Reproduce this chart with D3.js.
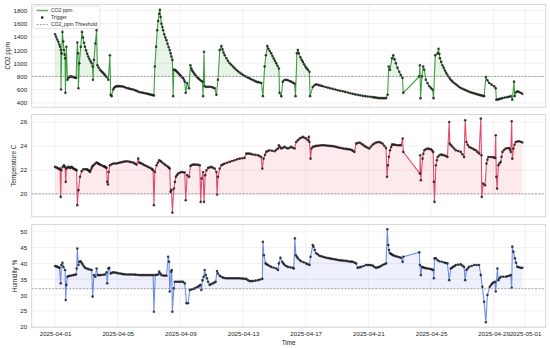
<!DOCTYPE html>
<html>
<head>
<meta charset="utf-8">
<script src="https://cdn.jsdelivr.net/npm/d3@7"></script>
<style>
body { margin: 0; background: #fff; }
text { font-family: "Liberation Sans", Arial, sans-serif; fill: #262626; }
</style>
</head>
<body>
<div id="chart"></div>
<script>
//Width and height
var w = 550;
var h = 348;

//Start of the series, values are [days since start, reading]
var startDate = Date.UTC(2025, 3, 1);

var co2Series = [
[0,1440],[0.07,1400],[0.14,1360],[0.21,1325],[0.27,1285],[0.32,1250],[0.37,1200],[0.38,600],[0.42,1150],[0.47,1475],
[0.52,1330],[0.57,1200],[0.61,1130],[0.64,1075],[0.66,550],[0.72,1250],[0.79,750],[0.85,775],[0.91,790],[0.96,800],
[1.03,797],[1.10,793],[1.17,790],[1.24,785],[1.30,780],[1.34,775],[1.42,1315],[1.47,1150],[1.49,620],[1.55,1000],
[1.64,1250],[1.72,1475],[1.78,1390],[1.85,1310],[1.91,1250],[1.98,1195],[2.05,1145],[2.12,1100],[2.19,1065],[2.27,1030],
[2.34,1000],[2.40,950],[2.42,750],[2.48,1050],[2.57,1300],[2.65,1500],[2.70,970],[2.78,935],[2.87,900],[2.94,880],
[3.01,865],[3.08,850],[3.15,830],[3.22,810],[3.29,790],[3.40,750],[3.50,1120],[3.55,520],[3.61,500],[3.71,600],
[3.76,625],[3.82,640],[3.90,648],[3.98,652],[4.06,652],[4.14,650],[4.24,648],[4.35,645],[4.46,635],[4.57,625],
[4.68,618],[4.78,612],[4.88,606],[4.99,600],[5.10,590],[5.20,580],[5.30,570],[5.41,560],[5.52,555],[5.62,550],
[5.73,545],[5.84,540],[5.92,535],[6.00,530],[6.08,525],[6.16,520],[6.24,515],[6.31,510],[6.37,950],[6.45,1250],
[6.52,1500],[6.58,1640],[6.64,1750],[6.69,1810],[6.74,1700],[6.79,1600],[6.85,1550],[6.90,1500],[6.97,1440],[7.04,1390],
[7.11,1350],[7.18,1295],[7.25,1245],[7.32,1200],[7.38,1150],[7.43,1100],[7.49,1050],[7.54,500],[7.58,900],[7.64,900],
[7.70,890],[7.75,880],[7.82,862],[7.89,843],[7.96,825],[8.03,808],[8.10,790],[8.17,775],[8.23,748],[8.28,720],
[8.34,550],[8.43,700],[8.55,620],[8.64,970],[8.70,920],[8.75,890],[8.81,870],[8.88,845],[8.95,820],[9.02,800],
[9.10,780],[9.17,765],[9.24,750],[9.32,735],[9.41,720],[9.45,500],[9.51,1175],[9.55,650],[9.66,640],[9.76,642],
[9.87,642],[9.98,640],[10.08,630],[10.19,620],[10.30,520],[10.40,750],[10.51,1200],[10.62,1260],[10.69,1210],[10.76,1160],
[10.83,1120],[10.94,1075],[11.04,1035],[11.15,1000],[11.25,975],[11.36,950],[11.46,925],[11.57,900],[11.67,880],[11.78,860],
[11.89,840],[12.00,820],[12.10,807],[12.21,795],[12.31,782],[12.42,770],[12.52,757],[12.63,745],[12.74,732],[12.85,720],
[12.95,713],[13.06,707],[13.17,700],[13.27,500],[13.38,950],[13.46,1120],[13.55,1260],[13.62,1220],[13.70,1185],[13.80,1150],
[13.88,1110],[13.96,1070],[14.04,1035],[14.12,1000],[14.20,960],[14.29,920],[14.33,550],[14.44,500],[14.54,720],[14.65,745],
[14.76,750],[14.86,742],[14.97,730],[15.07,720],[15.18,705],[15.29,690],[15.35,500],[15.44,1150],[15.50,1200],[15.56,1150],
[15.66,1090],[15.74,1050],[15.82,1020],[15.90,985],[15.98,950],[16.06,925],[16.14,900],[16.24,870],[16.28,500],[16.45,640],
[16.56,665],[16.67,680],[16.78,672],[16.88,664],[16.99,657],[17.09,650],[17.25,640],[17.41,630],[17.57,620],[17.73,610],
[17.89,600],[18.05,590],[18.20,582],[18.36,575],[18.52,565],[18.68,555],[18.84,545],[19.00,535],[19.16,527],[19.32,520],
[19.48,512],[19.64,505],[19.80,500],[19.96,495],[20.12,490],[20.27,485],[20.38,481],[20.48,478],[20.59,474],[20.70,470],
[20.81,470],[20.92,470],[21.02,470],[21.13,470],[21.23,520],[21.30,950],[21.38,900],[21.51,1075],[21.59,1120],[21.67,1060],
[21.76,1000],[21.86,930],[21.97,870],[22.07,820],[22.18,775],[22.23,550],[23.25,800],[23.29,970],[23.33,470],[23.42,800],
[23.50,950],[23.57,900],[23.67,750],[23.78,695],[23.89,650],[24.00,622],[24.10,600],[24.16,470],[24.27,1120],[24.42,1150],
[24.48,1220],[24.53,1140],[24.57,1075],[24.65,1020],[24.73,970],[24.81,930],[24.89,890],[24.97,853],[25.05,820],[25.13,790],
[25.21,765],[25.29,742],[25.37,720],[25.48,700],[25.58,680],[25.69,660],[25.80,640],[25.90,625],[26.01,612],[26.12,600],
[26.22,590],[26.33,578],[26.43,568],[26.54,558],[26.64,550],[26.75,542],[26.86,535],[26.96,527],[27.07,520],[27.15,515],
[27.23,510],[27.31,505],[27.39,500],[27.50,790],[27.60,740],[27.71,700],[27.87,675],[28.03,650],[28.13,620],[28.17,445],
[28.25,450],[28.34,455],[28.45,462],[28.55,470],[28.71,478],[28.87,485],[28.98,492],[29.09,500],[29.19,445],[29.30,720],
[29.34,500],[29.43,560],[29.52,575],[29.62,562],[29.73,550],[29.83,535]
];

var tempSeries = [
[0,22.25],[0.08,22.2],[0.15,22.17],[0.22,22.1],[0.28,22.06],[0.32,22.11],[0.36,19.75],[0.40,21.97],[0.49,22.25],[0.57,22.39],
[0.64,22.25],[0.68,21.0],[0.72,22.11],[0.79,22.2],[0.85,22.25],[0.91,22.2],[0.96,22.17],[1.01,22.2],[1.06,22.25],[1.12,22.18],
[1.17,22.11],[1.22,22.08],[1.27,22.06],[1.33,22.0],[1.38,21.97],[1.42,19.06],[1.49,20.31],[1.59,21.42],[1.70,21.89],[1.80,22.06],
[1.91,22.06],[2.02,22.06],[2.07,22.02],[2.12,21.97],[2.18,21.9],[2.23,21.83],[2.28,22.0],[2.34,22.17],[2.39,22.3],[2.44,22.39],
[2.55,22.5],[2.65,22.61],[2.71,22.57],[2.76,22.53],[2.82,22.48],[2.87,22.44],[2.97,22.38],[3.08,22.33],[3.13,22.29],[3.18,22.25],
[3.24,22.21],[3.29,22.17],[3.33,21.0],[3.38,20.78],[3.42,21.83],[3.50,22.39],[3.61,22.47],[3.72,22.53],[3.82,22.53],[3.93,22.53],
[4.03,22.57],[4.14,22.61],[4.24,22.64],[4.35,22.67],[4.45,22.7],[4.56,22.72],[4.67,22.7],[4.78,22.67],[4.88,22.64],[4.99,22.61],
[5.10,22.52],[5.20,22.44],[5.31,22.94],[5.37,22.61],[5.45,22.57],[5.52,22.53],[5.62,22.46],[5.73,22.39],[5.83,22.32],[5.94,22.25],
[6.05,22.18],[6.16,22.11],[6.21,22.04],[6.26,21.97],[6.31,19.06],[6.37,21.83],[6.48,22.39],[6.56,22.6],[6.65,22.81],[6.72,22.74],
[6.79,22.67],[6.90,22.56],[7.01,22.44],[7.11,22.35],[7.22,22.25],[7.27,22.18],[7.32,22.11],[7.37,20.17],[7.43,20.31],[7.49,18.44],
[7.58,20.44],[7.65,21.0],[7.71,21.42],[7.78,21.56],[7.86,21.69],[7.96,21.76],[8.07,21.83],[8.17,21.8],[8.28,21.78],[8.34,19.47],
[8.43,21.56],[8.56,21.42],[8.64,22.33],[8.72,22.4],[8.81,22.44],[8.91,22.44],[9.02,22.44],[9.13,22.42],[9.24,22.39],[9.30,19.33],
[9.36,21.28],[9.45,21.83],[9.51,19.33],[9.58,21.56],[9.66,21.97],[9.77,22.17],[9.87,22.21],[9.98,22.25],[10.08,22.18],[10.19,22.11],
[10.30,21.83],[10.34,19.94],[10.40,21.42],[10.51,22.11],[10.62,22.39],[10.72,22.46],[10.83,22.53],[10.99,22.6],[11.15,22.67],[11.30,22.74],
[11.46,22.81],[11.62,22.88],[11.78,22.94],[11.94,22.97],[12.09,23.0],[12.21,23.36],[12.31,23.36],[12.42,23.36],[12.52,23.32],[12.63,23.28],
[12.79,23.25],[12.95,23.22],[13.05,23.15],[13.16,23.08],[13.23,22.11],[13.31,22.94],[13.40,23.25],[13.48,23.5],[13.58,23.58],[13.69,23.64],
[13.85,23.6],[14.01,23.56],[14.12,23.67],[14.23,23.78],[14.29,24.06],[14.37,23.9],[14.44,23.78],[14.55,23.85],[14.65,23.92],[14.76,23.85],
[14.86,23.78],[14.97,23.85],[15.07,23.92],[15.18,23.85],[15.29,23.78],[15.39,24.33],[15.50,24.47],[15.61,24.61],[15.71,24.68],[15.82,24.75],
[15.92,24.68],[16.03,24.61],[16.14,24.47],[16.20,24.75],[16.24,24.33],[16.31,22.94],[16.37,23.78],[16.45,23.92],[16.56,23.96],[16.67,24.0],
[16.78,24.02],[16.88,24.03],[16.99,24.05],[17.09,24.06],[17.20,24.05],[17.31,24.04],[17.41,24.02],[17.52,24.0],[17.62,23.99],[17.73,23.98],
[17.84,23.95],[17.94,23.92],[18.05,23.88],[18.15,23.85],[18.26,23.82],[18.37,23.78],[18.47,23.76],[18.58,23.75],[18.69,23.73],[18.79,23.72],
[18.87,23.68],[18.95,23.65],[19.03,23.58],[19.11,23.5],[19.22,24.19],[19.32,24.24],[19.43,24.28],[19.54,24.2],[19.64,24.11],[19.75,24.0],
[19.85,23.92],[19.96,23.85],[20.06,23.78],[20.17,23.95],[20.28,24.11],[20.38,24.2],[20.49,24.28],[20.60,24.31],[20.70,24.33],[20.80,24.27],
[20.91,24.19],[21.02,24.0],[21.13,23.83],[21.19,21.42],[21.25,22.39],[21.31,23.1],[21.38,23.64],[21.45,23.9],[21.51,24.11],[21.58,24.11],
[21.66,24.11],[21.76,24.08],[21.87,24.06],[21.98,24.06],[22.08,24.06],[22.19,24.61],[22.23,23.5],[23.29,21.69],[23.31,23.22],[23.35,21.14],
[23.46,22.94],[23.51,23.35],[23.57,23.64],[23.67,23.72],[23.78,23.78],[23.88,23.75],[23.99,23.72],[24.07,23.62],[24.14,23.5],[24.18,21.0],
[24.22,19.33],[24.31,22.39],[24.37,22.8],[24.42,23.08],[24.52,23.2],[24.63,23.28],[24.73,23.25],[24.84,23.22],[24.95,23.15],[25.05,23.08],
[25.16,26.0],[25.20,24.19],[25.28,24.05],[25.37,23.92],[25.48,23.78],[25.58,23.64],[25.74,23.57],[25.90,23.5],[26.00,23.3],[26.11,23.08],
[26.18,26.14],[26.26,24.33],[26.34,24.1],[26.43,23.92],[26.54,23.85],[26.65,23.78],[26.75,23.7],[26.86,23.64],[26.96,23.5],[27.07,23.36],
[27.18,26.28],[27.22,23.22],[27.24,19.75],[27.33,20.86],[27.45,20.72],[27.54,22.53],[27.60,22.85],[27.66,23.08],[27.79,23.08],[27.92,23.08],
[28.00,23.04],[28.09,23.0],[28.13,24.89],[28.17,21.42],[28.22,20.44],[28.30,22.39],[28.37,22.55],[28.45,22.67],[28.50,23.1],[28.56,23.5],
[28.66,23.66],[28.77,23.78],[28.87,23.8],[28.98,23.83],[29.04,23.7],[29.09,23.5],[29.15,26.06],[29.19,22.94],[29.26,23.78],[29.33,24.1],
[29.41,24.33],[29.52,24.37],[29.62,24.39],[29.73,24.35],[29.83,24.28]
];

var humSeries = [
[0,39.2],[0.08,39.05],[0.15,38.9],[0.22,38.75],[0.28,38.6],[0.36,33.7],[0.40,39.5],[0.47,40.2],[0.53,38.9],[0.64,37.9],
[0.68,28.4],[0.72,33.2],[0.79,35.8],[0.87,36.0],[0.96,36.1],[1.06,36.2],[1.17,36.3],[1.25,36.4],[1.34,36.5],[1.38,38.4],
[1.42,44.7],[1.49,39.5],[1.55,40.5],[1.63,40.7],[1.70,40.2],[1.76,39.7],[1.84,39.1],[1.91,38.6],[2.02,38.4],[2.12,38.2],
[2.23,38.05],[2.34,37.9],[2.40,29.5],[2.48,36.3],[2.57,35.8],[2.65,38.4],[2.72,36.3],[2.80,36.3],[2.87,36.3],[2.97,36.35],
[3.08,36.4],[3.18,36.5],[3.29,37.2],[3.33,33.7],[3.40,38.4],[3.46,38.6],[3.55,36.8],[3.63,37.0],[3.72,37.2],[3.82,37.1],
[3.93,37.0],[4.03,36.9],[4.14,36.8],[4.24,36.7],[4.35,36.6],[4.45,36.55],[4.56,36.5],[4.67,36.5],[4.78,36.5],[4.88,36.5],
[4.99,36.5],[5.10,36.45],[5.20,36.4],[5.31,36.35],[5.41,36.3],[5.52,36.3],[5.62,36.3],[5.73,36.3],[5.84,36.3],[5.94,36.3],
[6.05,36.3],[6.16,36.3],[6.26,36.3],[6.31,24.7],[6.39,36.3],[6.48,36.4],[6.58,36.5],[6.65,37.4],[6.72,36.8],[6.79,36.3],
[6.90,36.2],[7.00,36.15],[7.11,36.1],[7.22,42.1],[7.28,40.5],[7.32,31.1],[7.41,37.4],[7.45,37.9],[7.49,24.7],[7.58,32.1],
[7.64,34.2],[7.75,34.2],[7.86,34.2],[7.96,34.2],[8.07,34.2],[8.17,34.2],[8.28,33.7],[8.39,27.4],[8.49,27.4],[8.60,31.6],
[8.70,31.75],[8.81,31.9],[8.91,32.1],[9.02,32.4],[9.13,32.6],[9.20,32.9],[9.28,33.2],[9.34,31.6],[9.41,34.7],[9.49,35.8],
[9.55,37.9],[9.62,36.3],[9.70,35.3],[9.77,34.2],[9.87,33.2],[9.97,33.45],[10.08,33.7],[10.17,33.95],[10.25,34.2],[10.34,37.6],
[10.40,36.8],[10.51,36.1],[10.61,35.8],[10.72,35.5],[10.82,35.4],[10.93,35.3],[11.04,35.3],[11.15,35.3],[11.25,35.3],[11.36,35.3],
[11.46,35.3],[11.57,35.3],[11.67,35.3],[11.78,35.3],[11.89,35.25],[12.00,35.2],[12.10,35.15],[12.21,35.1],[12.31,34.7],[12.42,34.4],
[12.52,34.4],[12.63,34.4],[12.79,34.55],[12.95,34.7],[13.09,34.9],[13.23,35.1],[13.27,46.8],[13.33,42.6],[13.44,40.0],[13.52,39.7],
[13.59,39.5],[13.70,39.2],[13.80,38.9],[13.96,38.65],[14.12,38.4],[14.23,37.9],[14.29,40.0],[14.39,41.8],[14.50,40.5],[14.58,40.0],
[14.65,39.5],[14.76,39.2],[14.86,38.9],[15.02,38.75],[15.18,38.6],[15.24,38.4],[15.31,47.9],[15.37,42.6],[15.44,42.1],[15.50,41.6],
[15.61,41.1],[15.71,40.7],[15.87,40.35],[16.03,40.0],[16.14,39.75],[16.24,39.5],[16.31,42.1],[16.45,45.8],[16.50,45.3],[16.58,44.2],
[16.67,43.2],[16.78,42.8],[16.88,42.4],[16.99,42.25],[17.09,42.1],[17.20,41.95],[17.31,41.8],[17.41,41.7],[17.52,41.6],[17.62,41.5],
[17.73,41.4],[17.84,41.3],[17.94,41.2],[18.05,41.1],[18.15,41.0],[18.26,40.95],[18.37,40.9],[18.47,40.85],[18.58,40.8],[18.69,40.7],
[18.79,40.6],[18.90,40.55],[19.00,40.5],[19.11,40.25],[19.22,40.0],[19.32,38.6],[19.43,38.75],[19.54,38.9],[19.70,39.2],[19.85,39.5],
[19.96,39.5],[20.06,39.5],[20.17,39.4],[20.28,39.3],[20.38,38.9],[20.49,38.6],[20.60,38.75],[20.70,38.9],[20.80,39.2],[20.91,39.5],
[21.02,39.75],[21.13,40.0],[21.21,50.8],[21.27,45.8],[21.32,44.2],[21.38,43.2],[21.45,43.0],[21.51,42.8],[21.58,42.6],[21.66,42.4],
[21.76,42.25],[21.87,42.1],[21.98,41.95],[22.08,41.8],[22.19,40.5],[22.23,42.1],[23.25,43.5],[23.29,39.5],[23.35,36.3],[23.42,38.9],
[23.50,38.75],[23.57,38.6],[23.67,38.5],[23.78,38.4],[23.88,38.3],[23.99,38.2],[24.07,38.05],[24.14,37.9],[24.18,35.3],[24.22,41.6],
[24.31,41.6],[24.41,41.1],[24.52,40.7],[24.68,40.5],[24.84,40.3],[24.95,40.15],[25.05,40.0],[25.16,34.7],[25.26,38.4],[25.33,38.65],
[25.41,38.9],[25.50,39.2],[25.58,39.5],[25.74,39.6],[25.90,39.7],[26.00,39.3],[26.11,38.9],[26.18,34.7],[26.26,37.9],[26.34,38.4],
[26.43,38.9],[26.59,39.2],[26.75,39.5],[26.91,39.5],[27.07,39.5],[27.18,36.3],[27.28,32.6],[27.39,27.9],[27.50,21.4],[27.60,30.0],
[27.75,32.6],[27.84,33.2],[27.92,33.7],[28.00,34.0],[28.09,34.2],[28.13,31.1],[28.24,38.4],[28.30,34.7],[28.37,35.3],[28.45,35.8],
[28.61,35.8],[28.77,35.8],[28.87,35.95],[28.98,36.1],[29.09,36.3],[29.15,32.3],[29.19,45.3],[29.26,43.7],[29.36,41.6],[29.43,40.2],
[29.51,38.9],[29.62,38.75],[29.73,38.6],[29.83,38.6]
];

//Thresholds and tick labels
var thresholds = [800, 20, 32];
var co2Ticks = [400, 600, 800, 1000, 1200, 1400, 1600, 1800];
var tempTicks = [20, 22, 24, 26];
var humTicks = [20, 25, 30, 35, 40, 45, 50];
var dateTicks = ["2025-04-01", "2025-04-05", "2025-04-09", "2025-04-13", "2025-04-17",
	"2025-04-21", "2025-04-25", "2025-04-29", "2025-05-01"];
var legendLabels = ["CO2 ppm", "Trigger", "CO2_ppm Threshold"];

var left = 31.7, right = 545.7;
var dayMs = 86400000;

var panels = [
	{ label: "CO2 ppm", data: co2Series, thr: thresholds[0], ticks: co2Ticks, color: "green",
		domain: [331, 1891], top: 4.5, bottom: 107.3, labelX: 8 },
	{ label: "Temperature C", data: tempSeries, thr: thresholds[1], ticks: tempTicks, color: "crimson",
		domain: [18.08, 26.62], top: 114.5, bottom: 216.9, labelX: 14 },
	{ label: "Humidity %", data: humSeries, thr: thresholds[2], ticks: humTicks, color: "royalblue",
		domain: [19.8, 52.3], top: 224.5, bottom: 327.3, labelX: 14.5 }
];

//x scale, matplotlib style 5% margin
var lastDay = d3.max(co2Series, function(d) { return d[0]; });
var pad = lastDay * 0.05;
var xScale = d3.scaleUtc()
	.domain([new Date(startDate - pad * dayMs), new Date(startDate + (lastDay + pad) * dayMs)])
	.range([left, right]);

function toDate(day) { return new Date(startDate + day * dayMs); }

var tickDates = dateTicks.map(function(s) { return new Date(s + "T00:00:00Z"); });

var svg = d3.select("#chart")
	.append("svg")
	.attr("width", w)
	.attr("height", h);

svg.append("rect").attr("width", w).attr("height", h).attr("fill", "#fff");

panels.forEach(function(p, i) {
	var yScale = d3.scaleLinear()
		.domain(p.domain)
		.range([p.bottom, p.top]);

	var g = svg.append("g");

	//grid
	g.selectAll(".ygrid")
		.data(p.ticks)
		.enter()
		.append("line")
		.attr("x1", left).attr("x2", right)
		.attr("y1", function(d) { return yScale(d); })
		.attr("y2", function(d) { return yScale(d); })
		.attr("stroke", "#ededed")
		.attr("stroke-width", 0.8);

	g.selectAll(".xgrid")
		.data(tickDates)
		.enter()
		.append("line")
		.attr("x1", function(d) { return xScale(d); })
		.attr("x2", function(d) { return xScale(d); })
		.attr("y1", p.top).attr("y2", p.bottom)
		.attr("stroke", "#ededed")
		.attr("stroke-width", 0.8);

	//fill above threshold
	var area = d3.area()
		.x(function(d) { return xScale(toDate(d[0])); })
		.y0(yScale(p.thr))
		.y1(function(d) { return yScale(Math.max(d[1], p.thr)); });

	g.append("path")
		.datum(p.data)
		.attr("d", area)
		.attr("fill", p.color)
		.attr("fill-opacity", 0.09);

	var line = d3.line()
		.x(function(d) { return xScale(toDate(d[0])); })
		.y(function(d) { return yScale(d[1]); });

	g.append("path")
		.datum(p.data)
		.attr("d", line)
		.attr("fill", "none")
		.attr("stroke", p.color)
		.attr("stroke-opacity", 0.75)
		.attr("stroke-width", 1.1);

	//trigger points
	g.append("g")
		.selectAll("circle")
		.data(p.data)
		.enter()
		.append("circle")
		.attr("cx", function(d) { return xScale(toDate(d[0])); })
		.attr("cy", function(d) { return yScale(d[1]); })
		.attr("r", 1.3)
		.attr("fill", "#1a1a1a")
		.attr("fill-opacity", 0.8);

	//threshold
	g.append("line")
		.attr("x1", left).attr("x2", right)
		.attr("y1", yScale(p.thr)).attr("y2", yScale(p.thr))
		.attr("stroke", "#808080")
		.attr("stroke-width", 0.7)
		.attr("stroke-dasharray", "2.2,1.2");

	//frame
	g.append("rect")
		.attr("x", left).attr("y", p.top)
		.attr("width", right - left).attr("height", p.bottom - p.top)
		.attr("fill", "none")
		.attr("stroke", "#d4d4d4")
		.attr("stroke-width", 0.9);

	//y axis
	var yAxis = d3.axisLeft(yScale)
		.tickValues(p.ticks)
		.tickSize(0)
		.tickPadding(4.5)
		.tickFormat(d3.format("d"));

	var ya = g.append("g")
		.attr("transform", "translate(" + left + ",0)")
		.call(yAxis);
	ya.select(".domain").remove();
	ya.selectAll("text")
		.style("font-size", "6.2px")
		.style("font-family", "Liberation Sans, Arial, sans-serif")
		.attr("fill", "#262626");

	g.append("text")
		.attr("transform", "translate(" + p.labelX + "," + ((p.top + p.bottom) / 2) + ") rotate(-90)")
		.attr("text-anchor", "middle")
		.attr("dy", "0.35em")
		.style("font-size", "6.4px")
		.text(p.label);

	if (i === panels.length - 1) {
		var xAxis = d3.axisBottom(xScale)
			.tickValues(tickDates)
			.tickSize(0)
			.tickPadding(4.5)
			.tickFormat(d3.utcFormat("%Y-%m-%d"));
		var xa = g.append("g")
			.attr("transform", "translate(0," + p.bottom + ")")
			.call(xAxis);
		xa.select(".domain").remove();
		xa.selectAll("text")
			.style("font-size", "6.2px")
			.style("font-family", "Liberation Sans, Arial, sans-serif")
			.attr("fill", "#262626");

		g.append("text")
			.attr("x", (left + right) / 2)
			.attr("y", 344.5)
			.attr("text-anchor", "middle")
			.style("font-size", "6.4px")
			.text("Time");
	}
});

//Legend
var lg = svg.append("g").attr("transform", "translate(33,6)");
lg.append("rect")
	.attr("width", 67).attr("height", 22.5)
	.attr("rx", 1.5)
	.attr("fill", "#fff").attr("fill-opacity", 0.85)
	.attr("stroke", "#d4d4d4").attr("stroke-width", 0.6);

var rows = lg.selectAll(".row")
	.data(legendLabels)
	.enter()
	.append("g")
	.attr("transform", function(d, i) { return "translate(3," + (4.5 + i * 7) + ")"; });

rows.append("text")
	.attr("x", 15)
	.attr("dy", "0.35em")
	.style("font-size", "5px")
	.text(function(d) { return d; });

lg.append("line").attr("x1", 3.5).attr("x2", 15).attr("y1", 4.5).attr("y2", 4.5)
	.attr("stroke", "green").attr("stroke-opacity", 0.6).attr("stroke-width", 1.6);
lg.append("circle").attr("cx", 9.2).attr("cy", 11.5).attr("r", 1.3).attr("fill", "#1a1a1a");
lg.append("line").attr("x1", 3.5).attr("x2", 15).attr("y1", 18.5).attr("y2", 18.5)
	.attr("stroke", "#808080").attr("stroke-width", 0.7).attr("stroke-dasharray", "2.2,1.2");
</script>
</body>
</html>
